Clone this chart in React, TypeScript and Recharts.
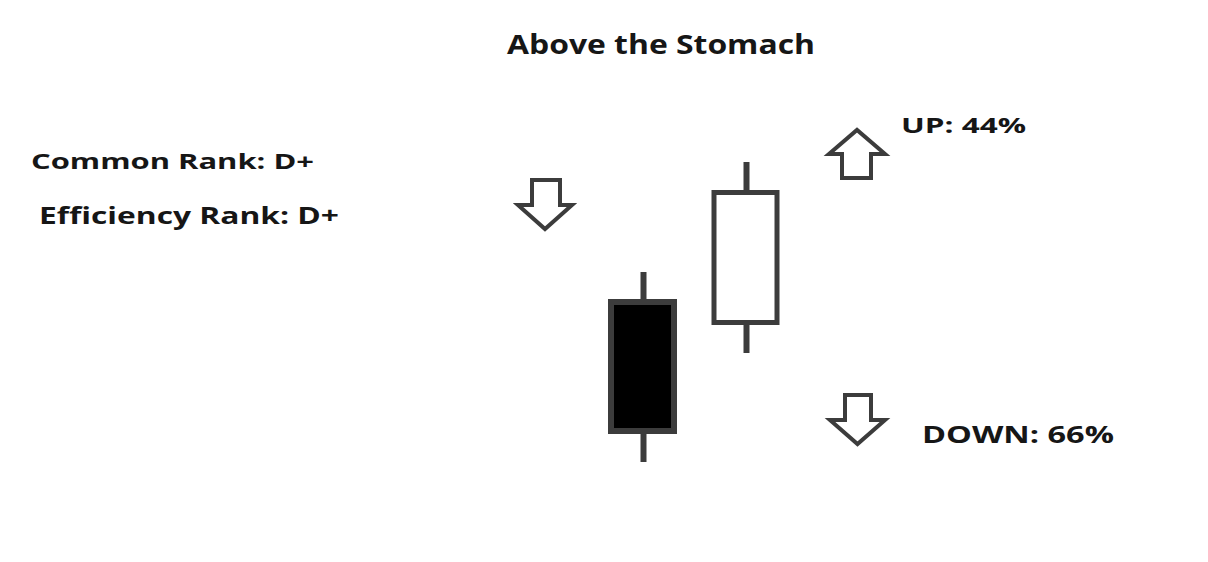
import React from "react";
import { ComposedChart, Bar, XAxis, YAxis } from "recharts";

const categories = ["Day 1", "Day 2"];
const opens = [19.8, 17.75];
const closes = [6.9, 30.75];
const highs = [22.8, 33.8];
const lows = [3.8, 14.7];

const titleText = "Above the Stomach";
const commonRank = "Common Rank: D+";
const efficiencyRank = "Efficiency Rank: D+";
const upText = "UP: 44%";
const downText = "DOWN: 66%";

const data = categories.map((name, i) => ({
  name,
  open: opens[i],
  close: closes[i],
  high: highs[i],
  low: lows[i],
  range: [lows[i], highs[i]],
}));

const STROKE = "#3c3c3c";

const Candle = (props: any) => {
  const { x, y, width, height, payload } = props;
  const top = Math.min(y, y + height);
  const bottom = Math.max(y, y + height);
  const { open, close, high, low } = payload;
  const pix = (v: number) => bottom - ((v - low) / (high - low)) * (bottom - top);
  const cx = x + width / 2 + 1;
  const bull = close > open;
  const bTop = pix(Math.max(open, close));
  const bBot = pix(Math.min(open, close));
  const sw = bull ? 5 : 6;
  return (
    <g>
      <line x1={cx} x2={cx} y1={top} y2={bottom} stroke={STROKE} strokeWidth={6} />
      <rect
        x={x}
        y={bTop}
        width={width}
        height={bBot - bTop}
        fill={bull ? "#ffffff" : "#000000"}
        stroke={STROKE}
        strokeWidth={sw}
      />
    </g>
  );
};

const DownArrow = ({ l, r, sl, sr, top, head, tip }: any) => (
  <polygon
    points={`${sl},${top} ${sr},${top} ${sr},${head} ${r},${head} ${(l + r) / 2},${tip} ${l},${head} ${sl},${head}`}
    fill="#ffffff"
    stroke={STROKE}
    strokeWidth={4}
    strokeLinejoin="miter"
  />
);

const UpArrow = ({ l, r, sl, sr, bottom, head, tip }: any) => (
  <polygon
    points={`${sl},${bottom} ${sr},${bottom} ${sr},${head} ${r},${head} ${(l + r) / 2},${tip} ${l},${head} ${sl},${head}`}
    fill="#ffffff"
    stroke={STROKE}
    strokeWidth={4}
    strokeLinejoin="miter"
  />
);

const textStyle: any = {
  fontFamily: "'Open Sans', sans-serif",
  fontWeight: 700,
  fill: "#161616",
};

export default function App() {
  return (
    <div style={{ position: "absolute", left: 0, top: 0, width: 1208, height: 562, background: "#ffffff" }}>
      <ComposedChart
        width={1208}
        height={562}
        data={data}
        margin={{ top: 0, bottom: 62, left: 591, right: 411 }}
      >
        <XAxis dataKey="name" hide />
        <YAxis hide domain={[0, 50]} />
        <Bar dataKey="range" barSize={63} shape={<Candle />} isAnimationActive={false} />
      </ComposedChart>
      <svg
        width={1208}
        height={562}
        style={{ position: "absolute", left: 0, top: 0, pointerEvents: "none" }}
      >
        <text x={507} y={54} fontSize={26} textLength={308} lengthAdjust="spacingAndGlyphs" style={textStyle}>{titleText}</text>
        <text x={31} y={169} fontSize={22} textLength={283} lengthAdjust="spacingAndGlyphs" style={textStyle}>{commonRank}</text>
        <text x={39} y={224} fontSize={23} textLength={300} lengthAdjust="spacingAndGlyphs" style={textStyle}>{efficiencyRank}</text>
        <text x={901} y={133} fontSize={22} textLength={125} lengthAdjust="spacingAndGlyphs" style={textStyle}>{upText}</text>
        <text x={922} y={443} fontSize={24} textLength={192} lengthAdjust="spacingAndGlyphs" style={textStyle}>{downText}</text>
        <DownArrow l={518} r={572} sl={532} sr={560} top={180} head={205} tip={229} />
        <UpArrow l={829} r={885} sl={842} sr={871} bottom={178} head={154} tip={130} />
        <DownArrow l={830} r={885} sl={845} sr={871} top={395} head={420} tip={444} />
      </svg>
    </div>
  );
}
